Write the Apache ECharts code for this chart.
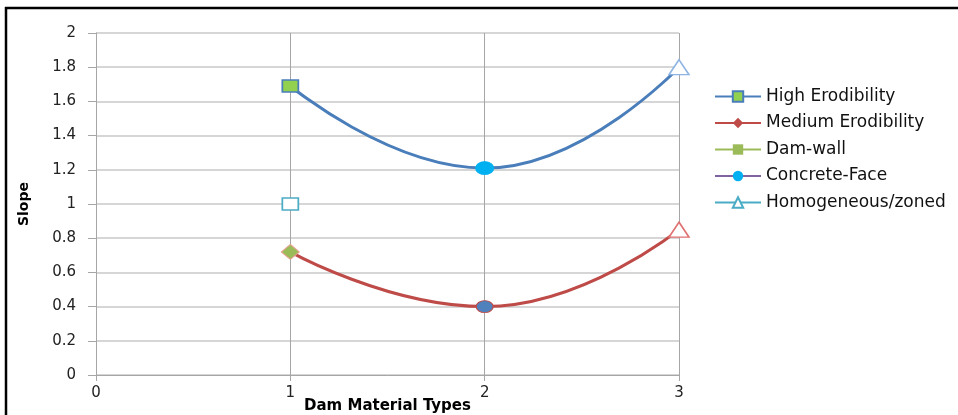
<!DOCTYPE html>
<html>
<head>
<meta charset="utf-8">
<script src="https://cdn.jsdelivr.net/npm/echarts@6/dist/echarts.min.js"></script>
<style>
html,body{margin:0;padding:0;background:#fff;}
#chart{width:958px;height:415px;}
</style>
</head>
<body>
<div id="chart"></div>
<script>
// ---- data ----
const xValues = [1, 2, 3];
const highErodibility = [1.69, 1.21, 1.80];
const mediumErodibility = [0.72, 0.40, 0.85];
const homogeneousX = [1];
const homogeneousY = [1.0];
const seriesNames = ['High Erodibility', 'Medium Erodibility', 'Dam-wall', 'Concrete-Face', 'Homogeneous/zoned'];
const xAxisTitle = 'Dam Material Types';
const yAxisTitle = 'Slope';

// ---- styles ----
const BLUE = '#4a7ebb', RED = '#be4b48', GREEN = '#92d050', OLIVE = '#9bbb59',
      PURPLE = '#7f63a1', CYAN = '#00b0f0', TEAL = '#4bacc6';
const FONT = 'DejaVu Sans';

// per-point marker styles (visual only)
const highMarkers = [
  {symbol: 'rect', symbolSize: [16, 12], itemStyle: {color: GREEN, borderColor: BLUE, borderWidth: 1.5}},
  {symbol: 'circle', symbolSize: [18, 13], itemStyle: {color: CYAN, borderColor: CYAN, borderWidth: 1}},
  {symbol: 'triangle', symbolSize: [20, 15], itemStyle: {color: '#fff', borderColor: '#8eb4e3', borderWidth: 1.5}}
];
const medMarkers = [
  {symbol: 'diamond', symbolSize: [18, 15], itemStyle: {color: OLIVE, borderColor: '#e6a090', borderWidth: 1}},
  {symbol: 'circle', symbolSize: [17, 12], itemStyle: {color: '#4f81bd', borderColor: RED, borderWidth: 1}},
  {symbol: 'triangle', symbolSize: [20, 15], itemStyle: {color: '#fff', borderColor: '#e07070', borderWidth: 1.5}}
];

function build(xs, ys, markers) {
  return xs.map((x, i) => Object.assign({value: [x, ys[i]]}, markers[i]));
}

const chart = echarts.init(document.getElementById('chart'));
chart.setOption({
  backgroundColor: '#fff',
  animation: false,
  grid: {left: 96, right: 279, top: 33, bottom: 40, outerBoundsMode: 'none', containLabel: false},
  xAxis: {
    type: 'value', min: 0, max: 3, interval: 1,
    name: xAxisTitle, nameLocation: 'middle', nameGap: 24, nameMoveOverlap: false,
    nameTextStyle: {fontFamily: FONT, fontWeight: 'bold', fontSize: 15, color: '#000'},
    axisLine: {show: true, lineStyle: {color: '#a6a6a6', width: 1}},
    axisTick: {show: true, length: 6, lineStyle: {color: '#a6a6a6'}},
    axisLabel: {fontFamily: FONT, fontSize: 15, color: '#222', margin: 11},
    splitLine: {show: true, lineStyle: {color: '#a6a6a6', width: 1}}
  },
  yAxis: {
    type: 'value', min: 0, max: 2, interval: 0.2,
    name: yAxisTitle, nameLocation: 'middle', nameGap: 65, nameRotate: 90, nameMoveOverlap: false,
    nameTextStyle: {fontFamily: FONT, fontWeight: 'bold', fontSize: 14, color: '#000'},
    axisLine: {show: true, lineStyle: {color: '#a6a6a6', width: 1}},
    axisTick: {show: true, length: 8, lineStyle: {color: '#a6a6a6'}},
    axisLabel: {fontFamily: FONT, fontSize: 15, color: '#222', margin: 20,
      formatter: v => String(Math.round(v * 10) / 10)},
    splitLine: {show: true, lineStyle: {color: '#c8c8c8', width: 1.5}}
  },
  legend: {
    orient: 'vertical', left: 714, top: 88, itemGap: 9.5, padding: 0,
    itemWidth: 46, itemHeight: 13,
    textStyle: {fontFamily: FONT, fontSize: 17, color: '#111'},
    data: seriesNames
  },
  graphic: [
    {type: 'line', shape: {x1: 5, y1: 8, x2: 958, y2: 8}, style: {stroke: '#000', lineWidth: 2.5}},
    {type: 'line', shape: {x1: 6, y1: 7, x2: 6, y2: 415}, style: {stroke: '#000', lineWidth: 2.5}}
  ],
  series: [
    {
      name: seriesNames[0], type: 'line', smooth: 0.5,
      lineStyle: {color: BLUE, width: 3}, itemStyle: {color: GREEN, borderColor: BLUE, borderWidth: 1},
      symbol: 'rect', data: build(xValues, highErodibility, highMarkers), z: 3
    },
    {
      name: seriesNames[1], type: 'line', smooth: 0.5,
      lineStyle: {color: RED, width: 3}, itemStyle: {color: RED},
      symbol: 'diamond', data: build(xValues, mediumErodibility, medMarkers), z: 3
    },
    {
      name: seriesNames[2], type: 'line', symbol: 'rect',
      lineStyle: {color: OLIVE, width: 3}, itemStyle: {color: OLIVE}, data: []
    },
    {
      name: seriesNames[3], type: 'line', symbol: 'circle',
      lineStyle: {color: PURPLE, width: 3}, itemStyle: {color: CYAN}, data: []
    },
    {
      name: seriesNames[4], type: 'line', symbol: 'triangle',
      lineStyle: {color: TEAL, width: 3}, itemStyle: {color: '#fff', borderColor: TEAL, borderWidth: 1.5},
      data: homogeneousX.map((x, i) => ({
        value: [x, homogeneousY[i]], symbol: 'rect', symbolSize: [16, 12],
        itemStyle: {color: '#fff', borderColor: TEAL, borderWidth: 1.5}
      })), z: 4
    }
  ]
});
</script>
</body>
</html>
